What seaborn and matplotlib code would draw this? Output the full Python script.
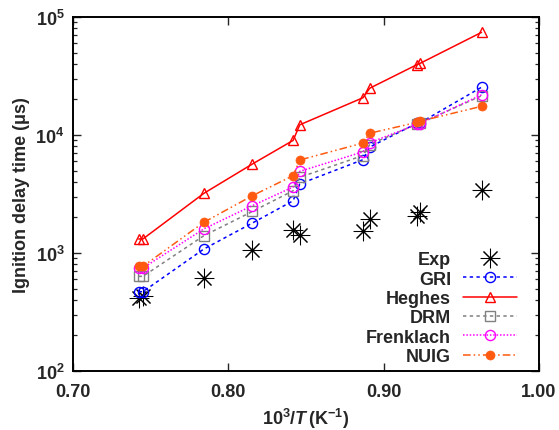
import numpy as np
import pandas as pd
import matplotlib
matplotlib.use("Agg")
import matplotlib.pyplot as plt
import seaborn as sns
from matplotlib.ticker import FixedLocator, FuncFormatter, LogLocator, NullFormatter

# ---- data ----
x_inv_T = [0.7423, 0.745, 0.7842, 0.8155, 0.8417, 0.846, 0.8867, 0.891, 0.9215, 0.9235, 0.963]
exp_vals = [413, 435, 611, 1065, 1580, 1430, 1545, 1940, 2050, 2210, 3440]
gri_vals = [470, 470, 1080, 1795, 2770, 3850, 6180, 7900, 12600, 12700, 25400]
heghes_vals = [1315, 1315, 3200, 5680, 9000, 12200, 20700, 24900, 39500, 40500, 74100]
drm_vals = [634, 634, 1400, 2250, 3370, 4380, 6700, 8300, 12400, 12600, 21500]
frenklach_vals = [745, 745, 1600, 2520, 3625, 4920, 7200, 8600, 12300, 12500, 21900]
nuig_vals = [771, 771, 1820, 3060, 4520, 6140, 8550, 10350, 12800, 13100, 17500]
x_ticks = [0.70, 0.80, 0.90, 1.00]
x_ticklabels = ["0.70", "0.80", "0.90", "1.00"]

series = {
    "Exp": exp_vals,
    "GRI": gri_vals,
    "Heghes": heghes_vals,
    "DRM": drm_vals,
    "Frenklach": frenklach_vals,
    "NUIG": nuig_vals,
}

rows = []
for name, vals in series.items():
    for xv, yv in zip(x_inv_T, vals):
        rows.append({"x": xv, "y": yv, "series": name})
df = pd.DataFrame(rows)

sns.set_style("ticks")
plt.rcParams["font.family"] = ["Liberation Sans", "DejaVu Sans"]
plt.rcParams["font.weight"] = "bold"
plt.rcParams["mathtext.fontset"] = "custom"
plt.rcParams["mathtext.rm"] = "Liberation Sans:bold"
plt.rcParams["mathtext.bf"] = "Liberation Sans:bold"
plt.rcParams["mathtext.it"] = "Liberation Sans:italic"

fig = plt.figure(figsize=(5.59, 4.31), dpi=100)
ax = fig.add_axes([73/559, 1-372/431, (539-73)/559, (372-18)/431])

styles = {
    "Exp": dict(color="black", linestyle="none", marker=(8, 2, 0), markersize=14,
                markeredgewidth=0.75, markeredgecolor="black"),
    "GRI": dict(color="#0000ff", linestyle=(0, (2.2, 2.2)), marker="o", markersize=7.3,
                markerfacecolor="none", markeredgewidth=1.0, markeredgecolor="#0000ff"),
    "Heghes": dict(color="#ff0000", linestyle="-", marker="^", markersize=7.8,
                   markerfacecolor="none", markeredgewidth=1.0, markeredgecolor="#ff0000"),
    "DRM": dict(color="#808080", linestyle=(0, (2.2, 2.2)), marker="s", markersize=6.8,
                markerfacecolor="none", markeredgewidth=1.0, markeredgecolor="#808080"),
    "Frenklach": dict(color="#ff00ff", linestyle=(0, (1, 1.2)), marker="o", markersize=7.3,
                      markerfacecolor="none", markeredgewidth=1.0, markeredgecolor="#ff00ff"),
    "NUIG": dict(color="#ff5a10", linestyle=(0, (5, 2, 1, 2, 1, 2)), marker="o", markersize=6.5,
                 markerfacecolor="#ff5a10", markeredgewidth=0.5, markeredgecolor="#ff5a10"),
}

for name in series:
    sub = df[df["series"] == name]
    st = styles[name]
    sns.lineplot(data=sub, x="x", y="y", ax=ax, label=name, estimator=None,
                 errorbar=None, sort=False, linewidth=1.1, **st)

ax.set_yscale("log")
ax.set_xlim(0.70, 1.00)
ax.set_ylim(1e2, 1e5)

ax.xaxis.set_major_locator(FixedLocator(x_ticks))
ax.set_xticks(x_ticks)
ax.set_xticklabels(x_ticklabels)
ax.xaxis.set_minor_locator(FixedLocator([]))
ax.yaxis.set_major_locator(LogLocator(base=10, numticks=10))
ax.yaxis.set_major_formatter(FuncFormatter(lambda v, p: r"$\mathbf{10^{%d}}$" % int(round(np.log10(v)))))
ax.yaxis.set_minor_locator(LogLocator(base=10, subs=np.arange(2, 10), numticks=20))
ax.yaxis.set_minor_formatter(NullFormatter())

ax.tick_params(which="both", direction="in", top=True, right=True, labelsize=13)
ax.tick_params(which="major", length=6, width=1.0)
ax.tick_params(axis="x", which="major", pad=9)
ax.tick_params(axis="y", which="major", pad=6)
ax.tick_params(which="minor", length=3, width=0.9)
for lab in ax.get_xticklabels() + ax.get_yticklabels():
    lab.set_fontweight("bold")
for sp in ax.spines.values():
    sp.set_linewidth(1.4)
    sp.set_color("black")

ax.set_xlabel(r"$\mathbf{10^{3}}/\mathit{T}\,\mathbf{(K^{-1})}$", fontsize=13, labelpad=4)
ax.set_ylabel("Ignition delay time (μs)", fontsize=13, fontweight="bold", labelpad=4)

leg = ax.legend(loc="lower right", frameon=False, markerfirst=False, fontsize=13,
                handlelength=3.0, handletextpad=0.65, labelspacing=0.13,
                borderpad=0, borderaxespad=0, bbox_to_anchor=(1 - 22/466, 6/354))
for t in leg.get_texts():
    t.set_fontweight("bold")

fig.savefig("out.png", dpi=100)
